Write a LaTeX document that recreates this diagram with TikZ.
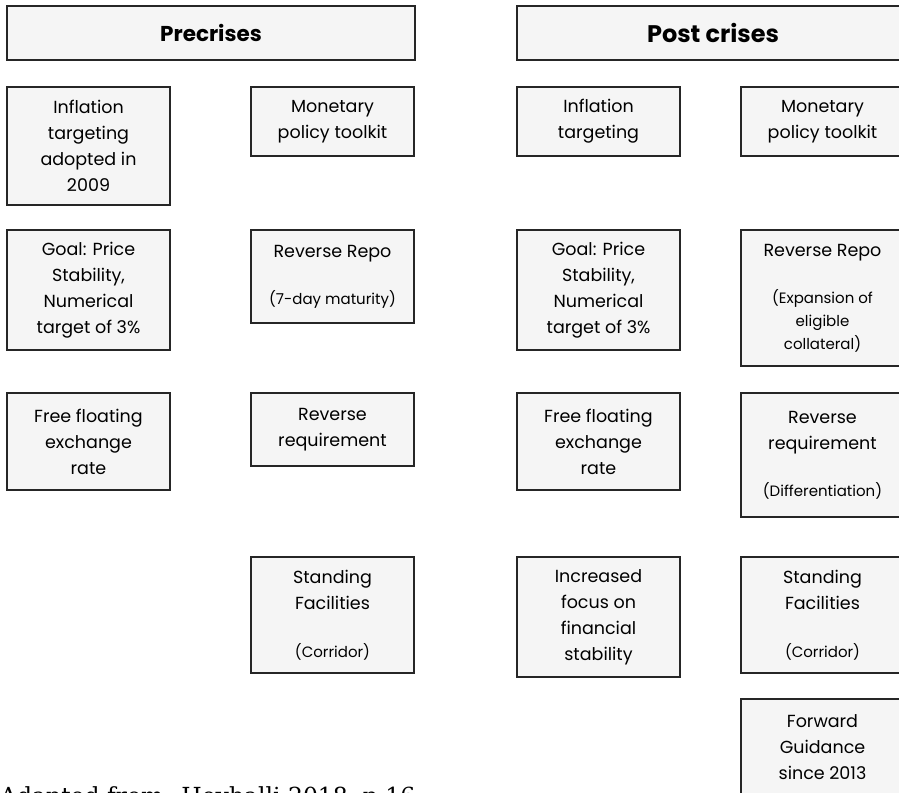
\documentclass[tikz,border=0pt]{standalone}
\usepackage{fontspec}
\setmainfont{Poppins}
\newfontfamily\srcfont{DejaVu Serif}
\newcommand\subnote{\fontsize{15}{20}\selectfont}
\begin{document}
\begin{tikzpicture}[x=1pt,y=-1pt,
    cell/.style={draw=black!85,fill=black!4,line width=1.3pt,align=center,
      anchor=north west,outer sep=0pt,inner sep=2pt,minimum width=163pt,
      font=\fontsize{17.5}{26}\selectfont},
    head/.style={cell,minimum height=54pt,font=\fontsize{21.5}{24}\selectfont\bfseries}]
    \useasboundingbox (0,0) rectangle (899,792);
    \clip (0,0) rectangle (899,792);
    \node[head,minimum width=408pt] (pre) at (7,6) {Precrises};
    \node[head,minimum width=392pt,font=\fontsize{24}{26}\selectfont\bfseries] (post) at (517,6) {Post crises};
    \node[cell,minimum height=118pt] (preinf) at (7,87) {Inflation\\targeting\\adopted in\\2009};
    \node[cell,minimum height=120pt] (pregoal) at (7,230) {Goal: Price\\Stability,\\Numerical\\target of 3\%};
    \node[cell,minimum height=97pt] (prefloat) at (7,393) {Free floating\\exchange\\rate};
    \node[cell,minimum height=69pt] (pretool) at (251,87) {Monetary\\policy toolkit};
    \node[cell,minimum height=93pt] (prerepo) at (251,230) {Reverse Repo\\[21pt]\subnote (7-day maturity)};
    \node[cell,minimum height=73pt] (prereq) at (251,393) {Reverse\\requirement};
    \node[cell,minimum height=116pt] (prestand) at (251,557) {Standing\\Facilities\\[22pt]\subnote (Corridor)};
    \node[cell,minimum height=69pt] (postinf) at (517,87) {Inflation\\targeting};
    \node[cell,minimum height=120pt] (postgoal) at (517,230) {Goal: Price\\Stability,\\Numerical\\target of 3\%};
    \node[cell,minimum height=97pt] (postfloat) at (517,393) {Free floating\\exchange\\rate};
    \node[cell,minimum height=120pt] (postfocus) at (517,557) {Increased\\focus on\\financial\\stability};
    \node[cell,minimum height=69pt] (posttool) at (741,87) {Monetary\\policy toolkit};
    \node[cell,minimum height=136pt] (postrepo) at (741,230) {Reverse Repo\\[21pt]\subnote (Expansion of\\[-3pt]\subnote eligible\\[-3pt]\subnote collateral)};
    \node[cell,minimum height=124pt] (postreq) at (741,393) {Reverse\\requirement\\[21pt]\subnote (Differentiation)};
    \node[cell,minimum height=116pt] (poststand) at (741,557) {Standing\\Facilities\\[22pt]\subnote (Corridor)};
    \node[cell,minimum height=96pt] (postfwd) at (741,699) {Forward\\Guidance\\since 2013};
    \node[anchor=base west,inner sep=0pt,font=\srcfont\fontsize{23.5}{26}\selectfont] (src) at (0,804) {Adapted from: Heyballi 2018, p.16};
\end{tikzpicture}
\end{document}
